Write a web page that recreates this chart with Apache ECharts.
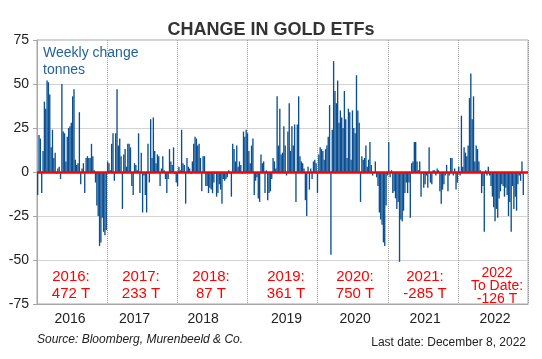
<!DOCTYPE html>
<html><head><meta charset="utf-8">
<script src="https://cdn.jsdelivr.net/npm/echarts@6/dist/echarts.min.js"></script>
<style>html,body{margin:0;padding:0;background:#fff}#c{width:542px;height:359px}</style>
</head><body><div id="c"></div>
<script>
// ---- data (weekly change in gold ETF holdings, tonnes) ----
const years = ['2016','2017','2018','2019','2020','2021','2022'];
const slotsPerYear = [52, 52, 52, 52, 53, 52, 52]; // weekly slots on the axis (2022: data to Dec 8)
const y2016 = [-13, 21, 19, -12, 12, 40, 36, 52, 51, 44, 14, 24, 8, 11, -1, 2, 3, -4, 50, 23, 22, 6, 20, 25, 26, 28, 43, 47, 7, 4, 5, 34, -7, 2, 5, -12, 8, 9, 8, 8, 16, 9, 1, -6, -19, -25, -42, -40, -26, -34, -36, -33];
const y2017 = [6, 5, 1, 16, 22, -5, 22, 47, 15, 19, 9, -21, 10, 13, 3, 16, 16, 14, -8, -13, 5, 4, 1, 22, -12, 11, -23, -2, -13, -23, 16, -6, 30, 8, 31, 12, 5, 10, 9, -8, 2, 9, 1, -4, -12, -4, 13, 6, 4, 14, -1, -6];
const y2018 = [-8, 3, 1, 24, 5, 4, -18, 8, 3, 2, -1, 6, 16, 20, 19, 15, 16, 8, -11, 9, 9, -8, -8, -12, -9, -10, -12, -6, -1, -14, -12, -7, -10, -18, -4, -5, -4, -3, 1, -1, -14, 16, 13, 6, 15, 3, 6, 4, -1, 23, 20, 24];
const y2019 = [22, 12, 5, 15, 19, -13, -5, -3, -15, -17, 10, 5, 6, -12, 1, -16, -12, -11, -4, 8, 6, 2, 43, 15, 36, 10, 11, 26, 15, -2, 23, 39, 12, 26, 15, 27, -17, 27, 43, 9, 6, 5, 2, -16, -25, 3, -10, 2, -4, 6, 7, 5];
const y2020 = [-12, 10, 14, 13, 12, 7, 13, 15, 20, 38, -47, 24, 63, 46, 39, 52, 28, 35, 31, 25, 46, 30, 8, 36, 34, 7, 35, 25, 22, 55, 35, 28, -17, 9, 7, 8, 15, 3, 7, 17, 4, -2, 0, 6, -3, -8, -23, -27, -30, -40, -42, -19, -2];
const y2021 = [17, -3, 1, -12, -11, -15, -21, -17, -51, -27, -28, -22, -12, -6, -12, -6, -26, 5, 6, 17, 17, 6, 1, 6, -14, 0, -9, -7, -2, -9, 14, -6, -7, 1, 1, -2, 2, 1, -11, -18, -10, -7, -2, 4, -11, -2, 8, 8, -2, 2, -10, -6];
const y2022 = [3, -2, 32, 3, 14, 11, 9, 15, 42, 56, 30, 43, 6, 15, 13, 6, 1, -12, -8, -34, 1, -2, 3, -2, -8, -14, -20, -28, -21, -26, -15, -11, -7, -8, -14, -9, -13, -25, -17, -34, -8, -21, -14, -22, -7, -2, -5, 6, -13];
const yearTotals = ['2016:\n472 T', '2017:\n233 T', '2018:\n87 T', '2019:\n361 T', '2020:\n750 T', '2021:\n-285 T', '2022\nTo Date:\n-126 T'];
const yMin = -75, yMax = 75, yStep = 25;

// ---- layout constants ----
const labelShift = [-2, -6, -7, 3, 2, 1, 1];          // year label offset from mid-year (weeks)
const annX = [71, 141, 211, 286, 355, 425, 497];        // annotation centres (px)

// ---- build category axis ----
const yearData = [y2016, y2017, y2018, y2019, y2020, y2021, y2022];
const categories = [], values = [], yearStart = [], labelIdx = [];
years.forEach((yr, k) => {
  const n = slotsPerYear[k];
  yearStart.push(categories.length);
  labelIdx.push(categories.length + Math.floor(n / 2) + labelShift[k]);
  for (let w = 0; w < n; w++) {
    categories.push(yr + '-' + (w + 1));
    values.push(w < yearData[k].length ? yearData[k][w] : null);
  }
});

const FONT = 'Liberation Sans, Arial, sans-serif';
const chart = echarts.init(document.getElementById('c'), null, {renderer: 'canvas'});

chart.setOption({
  animation: false,
  backgroundColor: '#fff',
  title: {
    text: 'CHANGE IN GOLD ETFs', left: 'center', top: 16,
    textStyle: {fontFamily: FONT, fontSize: 18, fontWeight: 'bold', color: '#333'}
  },
  grid: {left: 37, right: 14, top: 40, bottom: 55, show: true, borderColor: '#a6a6a6', borderWidth: 1},
  xAxis: {
    type: 'category', data: categories, boundaryGap: true,
    axisLine: {onZero: false, lineStyle: {color: '#a6a6a6'}},
    axisTick: {show: false},
    axisLabel: {
      interval: (i) => labelIdx.includes(i), formatter: (v) => v.slice(0, 4),
      fontFamily: FONT, fontSize: 14, color: '#222', margin: 8
    },
    splitLine: {show: true, interval: (i) => i > 0 && yearStart.includes(i),
      lineStyle: {color: '#9a9a9a', type: 'dotted', width: 1}}
  },
  yAxis: {
    type: 'value', min: yMin, max: yMax, interval: yStep,
    axisLine: {show: true, lineStyle: {color: '#a6a6a6'}},
    axisTick: {show: true, length: 4, lineStyle: {color: '#a6a6a6'}},
    axisLabel: {fontFamily: FONT, fontSize: 14, color: '#222', margin: 8},
    splitLine: {show: true, lineStyle: {color: '#d4d4d4', width: 1}}
  },
  series: [{
    type: 'bar', data: values, barCategoryGap: '0%',
    itemStyle: {color: '#0a4f92'},
    markLine: {
      silent: true, symbol: 'none', label: {show: false},
      lineStyle: {color: '#ff0000', width: 2.5, type: 'solid'},
      data: [{yAxis: 0}]
    }
  }],
  graphic: [
    {type: 'text', x: 43, y: 45, style: {text: 'Weekly change\ntonnes', fontFamily: FONT, fontSize: 14, lineHeight: 17, fill: '#1f5f9e'}},
    {type: 'text', x: 37, y: 340, style: {text: 'Source: Bloomberg, Murenbeeld & Co.', fontFamily: FONT, fontSize: 12, fontStyle: 'italic', fill: '#222', verticalAlign: 'middle'}},
    {type: 'text', x: 526, y: 343, style: {text: 'Last date: December 8, 2022', fontFamily: FONT, fontSize: 12, fill: '#222', align: 'right', verticalAlign: 'middle'}}
  ].concat(yearTotals.map((t, k) => ({
    type: 'text', x: annX[k], y: k === 6 ? 286 : 285,
    style: {text: t, fontFamily: FONT, fontSize: k === 6 ? 14 : 15, lineHeight: k === 6 ? 13 : 17,
      fill: '#ff0000', align: 'center', verticalAlign: 'middle'}
  })))
});
</script></body></html>
